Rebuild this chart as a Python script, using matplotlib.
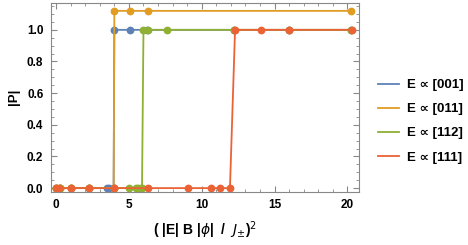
import matplotlib
matplotlib.use('Agg')
import matplotlib.pyplot as plt
from matplotlib.lines import Line2D
from matplotlib.ticker import MultipleLocator

plt.rcParams['font.family'] = ['Liberation Sans', 'DejaVu Sans']
plt.rcParams['mathtext.fontset'] = 'dejavusans'

# 数据
x_001 = [0, 0.25, 1, 2.25, 3.5, 3.65, 3.95, 4.0, 5.06, 6.25, 12.25, 16, 20.25]
y_001 = [0, 0, 0, 0, 0, 0, 0, 1, 1, 1, 1, 1, 1]

x_011 = [0, 0.25, 1, 2.25, 3.95, 4.0, 5.06, 6.3, 20.25]
y_011 = [0, 0, 0, 0, 0, 1.12, 1.12, 1.12, 1.12]

x_112 = [0, 0.25, 1, 2.25, 4.0, 5.03, 5.5, 5.65, 5.8, 5.9, 6.0, 6.3, 7.6, 12.25, 16, 20.25]
y_112 = [0, 0, 0, 0, 0, 0, 0, 0, 0, 0, 1, 1, 1, 1, 1, 1]

x_111 = [0, 0.23, 1.03, 2.26, 3.95, 6.29, 9.08, 10.64, 11.26, 11.94, 12.29, 14.1, 16.0, 20.3]
y_111 = [0, 0, 0, 0, 0, 0, 0, 0, 0, 0, 1, 1, 1, 1]

labels = ['E ∝ [001]', 'E ∝ [011]', 'E ∝ [112]', 'E ∝ [111]']
colors = ['#5E81B5', '#E19C24', '#8FB032', '#EB6235']

fig = plt.figure(figsize=(4.68, 2.45), dpi=100)
ax = fig.add_axes([0.109, 0.218, 0.658, 0.770])

series = [(x_001, y_001), (x_011, y_011), (x_112, y_112), (x_111, y_111)]
for (xs, ys), c in zip(series, colors):
    ax.plot(xs, ys, '-o', color=c, lw=1.3, ms=4.6, mec=c)

ax.set_xlim(-0.35, 20.8)
ax.set_ylim(-0.022, 1.17)

ax.xaxis.set_major_locator(MultipleLocator(5))
ax.xaxis.set_minor_locator(MultipleLocator(1))
ax.yaxis.set_major_locator(MultipleLocator(0.2))
ax.yaxis.set_minor_locator(MultipleLocator(0.05))
ax.yaxis.set_major_formatter(matplotlib.ticker.FormatStrFormatter('%.1f'))

for s in ax.spines.values():
    s.set_color('#888888')
ax.tick_params(which='both', direction='in', top=True, right=True, color='#888888')
ax.tick_params(which='major', length=4, labelsize=8.5, pad=5.5)
ax.tick_params(which='minor', length=2.2)
for lab in ax.get_xticklabels() + ax.get_yticklabels():
    lab.set_fontweight('bold')

ax.set_ylabel('|P|', fontsize=9.5, fontweight='bold', labelpad=5)
ax.set_xlabel(r'( |E| B |$\phi$|  /  $J_{\pm}$)$^2$', fontsize=10, fontweight='bold', labelpad=6)

handles = [Line2D([], [], color=c, lw=1.3) for c in colors]
leg = fig.legend(handles, labels, loc='center left', bbox_to_anchor=(0.783, 0.505),
                 frameon=False, handlelength=1.55, handletextpad=0.6, labelspacing=0.9,
                 prop={'size': 9.5, 'weight': 'bold'})

fig.savefig('out.png', dpi=100)
